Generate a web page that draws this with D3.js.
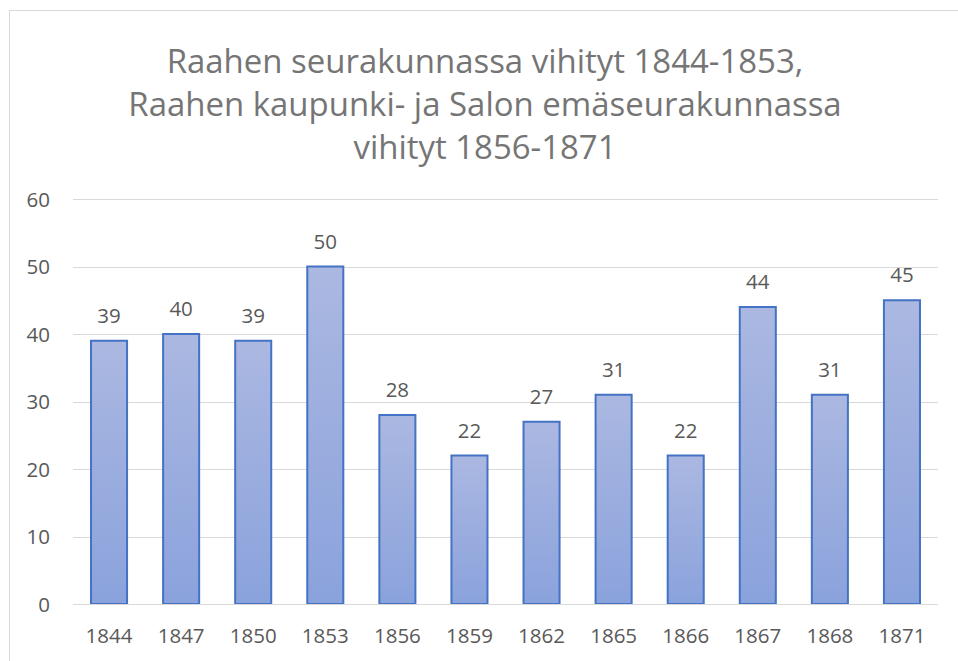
<!DOCTYPE html>
<html><head><meta charset="utf-8">
<script src="https://cdn.jsdelivr.net/npm/d3@7/dist/d3.min.js"></script>
<style>html,body{margin:0;padding:0;background:#fff;overflow:hidden}</style>
</head><body>
<svg id="c" width="958" height="661"></svg>
<script>
const titleLines = ["Raahen seurakunnassa vihityt 1844-1853,", "Raahen kaupunki- ja Salon emäseurakunnassa", "vihityt 1856-1871"];
const years = ["1844","1847","1850","1853","1856","1859","1862","1865","1866","1867","1868","1871"];
const counts = [39,40,39,50,28,22,27,31,22,44,31,45];
const yTicks = [0,10,20,30,40,50,60];

const FONT = "'Open Sans', 'Liberation Sans', sans-serif";
const LABEL_SIZE = 20.5;
const svg = d3.select("#c");

// chart border
svg.append("rect").attr("x",9.5).attr("y",10.5).attr("width",1000).attr("height",1000)
  .attr("fill","none").attr("stroke","#d9d9d9").attr("stroke-width",1);

const defs = svg.append("defs");
const g = defs.append("linearGradient").attr("id","barGrad").attr("x1",0).attr("y1",0).attr("x2",0).attr("y2",1);
g.append("stop").attr("offset","0%").attr("stop-color","#abb8e1");
g.append("stop").attr("offset","100%").attr("stop-color","#8aa2dc");

const x = d3.scaleBand().domain(years).range([73, 938]).paddingInner(0.5).paddingOuter(0.25);
const y = d3.scaleLinear().domain([0, 60]).range([604, 199]);

// gridlines
svg.append("g").selectAll("line").data(yTicks).join("line")
  .attr("x1",73).attr("x2",938)
  .attr("y1",d=>Math.round(y(d))+0.5).attr("y2",d=>Math.round(y(d))+0.5)
  .attr("stroke","#d9d9d9").attr("stroke-width",1);

// y axis labels
const yAxis = d3.axisLeft(y).tickValues(yTicks).tickSize(0).tickPadding(0);
const ya = svg.append("g").attr("transform","translate(50,0)").call(yAxis);
ya.select(".domain").remove();
ya.selectAll("text").attr("font-family",FONT).attr("font-size",LABEL_SIZE).attr("fill","#595959").attr("dy","0.35em");

// bars
svg.append("g").selectAll("rect").data(years).join("rect")
  .attr("x",d=>x(d)).attr("width",x.bandwidth())
  .attr("y",(d,i)=>y(counts[i])).attr("height",(d,i)=>y(0)-y(counts[i]))
  .attr("fill","url(#barGrad)").attr("stroke","#4472c4").attr("stroke-width",2);

// baseline redraw over bars
svg.append("line").attr("x1",73).attr("x2",938).attr("y1",604.5).attr("y2",604.5)
  .attr("stroke","#d9d9d9").attr("stroke-width",1);

// x axis labels
const xAxis = d3.axisBottom(x).tickSize(0).tickPadding(0);
const xa = svg.append("g").attr("transform","translate(0,643)").call(xAxis);
xa.select(".domain").remove();
xa.selectAll("text").attr("font-family",FONT).attr("font-size",LABEL_SIZE).attr("fill","#595959").attr("dy",0);

// data labels
svg.append("g").selectAll("text").data(years).join("text")
  .attr("x",d=>x(d)+x.bandwidth()/2)
  .attr("y",(d,i)=>y(counts[i])-18)
  .attr("text-anchor","middle").attr("font-family",FONT).attr("font-size",LABEL_SIZE).attr("fill","#595959")
  .text((d,i)=>counts[i]);

// title
const tg = svg.append("g");
const tl = tg.selectAll("text").data(titleLines).join("text")
  .attr("x",485).attr("y",(d,i)=>73+i*43)
  .attr("text-anchor","middle").attr("font-family",FONT).attr("font-size",30).attr("fill","#757575")
  .text(d=>d);
const w0 = tl.nodes()[0].getComputedTextLength();
tl.attr("font-size", 30*637/w0);
</script>
</body></html>
